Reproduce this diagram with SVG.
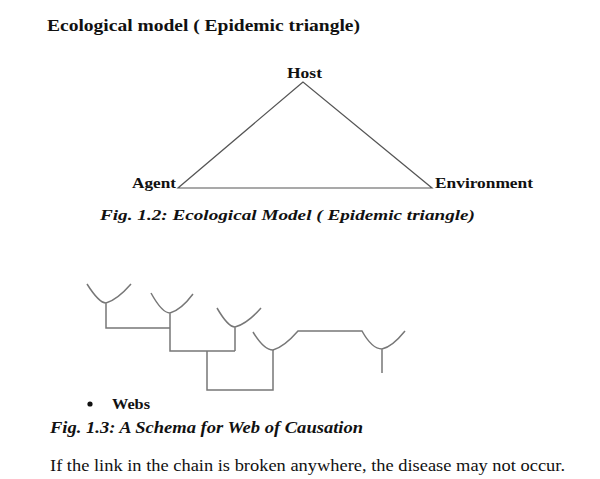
<svg xmlns="http://www.w3.org/2000/svg" width="600" height="479" viewBox="0 0 600 479">
<style>
text{font-family:"Liberation Serif","Times New Roman",serif;fill:#111}
.b{font-weight:bold}
.bi{font-weight:bold;font-style:italic}
.ln{fill:none;stroke:#555;stroke-width:1.2}
.wb{fill:none;stroke:#777;stroke-width:1.5}
</style>
<rect width="600" height="479" fill="#fff"/>
<text class="b" x="47" y="31" font-size="16" textLength="313" lengthAdjust="spacingAndGlyphs">Ecological model  ( Epidemic triangle)</text>
<g id="connectors">
<polygon class="ln" points="303,82 178,188 432,188"/>
</g>
<g id="host"><text class="b" x="287" y="78" font-size="14" textLength="35" lengthAdjust="spacingAndGlyphs">Host</text></g>
<g id="agent"><text class="b" x="132" y="188" font-size="14" textLength="44" lengthAdjust="spacingAndGlyphs">Agent</text></g>
<g id="environment"><text class="b" x="435" y="188" font-size="14" textLength="98" lengthAdjust="spacingAndGlyphs">Environment</text></g>
<text class="bi" x="100" y="220" font-size="15.5" textLength="375" lengthAdjust="spacingAndGlyphs">Fig. 1.2: Ecological Model ( Epidemic triangle)</text>
<g id="web">
<path class="wb" d="M87,284 Q99,303 106,303 Q117,300 131,284 M106,303 V328 H170"/>
<path class="wb" d="M151,293 Q162,313 170,313 Q181,310 193,294 M170,313 V351 H235"/>
<path class="wb" d="M217,308 Q228,327 235,327 Q247,324 261,308 M235,327 V351"/>
<path class="wb" d="M207,351 V390 H273 V350"/>
<path class="wb" d="M253,332 Q264,350 273,350 Q284,347 298,331 H362 Q372,349 382,349 Q392,347 405,331 M382,349 V373"/>
</g>
<circle cx="90" cy="404" r="2.6" fill="#111"/>
<text class="b" x="112" y="409" font-size="15" textLength="38" lengthAdjust="spacingAndGlyphs">Webs</text>
<text class="bi" x="50" y="433" font-size="16" textLength="313" lengthAdjust="spacingAndGlyphs">Fig. 1.3: A Schema for Web of Causation</text>
<text x="50" y="471" font-size="17" textLength="515" lengthAdjust="spacingAndGlyphs">If the link in the chain is broken anywhere, the disease may not occur.</text>
</svg>
